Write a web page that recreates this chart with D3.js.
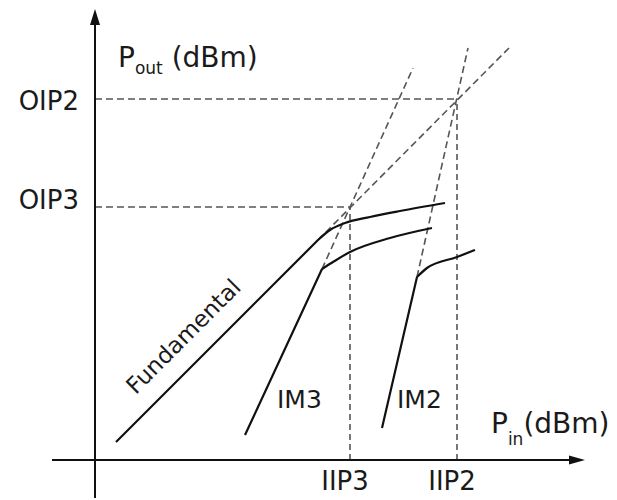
<!DOCTYPE html>
<html>
<head>
<meta charset="utf-8">
<script src="https://cdn.jsdelivr.net/npm/d3@7"></script>
<style>
  body { margin: 0; background: #fff; }
  text { font-family: "DejaVu Sans", Verdana, sans-serif; fill: #1a1a1a; }
</style>
</head>
<body>
<div id="chart"></div>
<script>
// values in dBm (arbitrary units); first point -> knee is the linear part
const fundamental = [[2.1, 1.8], [22.3, 22.0], [23.5, 23.0], [25.0, 23.7], [27.5, 24.3], [30.5, 24.9], [35.0, 25.7]];
const fundamentalExt = [[22.3, 22.0], [41.4, 41.2]];
const im3 = [[15.0, 2.5], [22.7, 19.1], [23.8, 19.8], [25.5, 20.8], [29.5, 22.2], [33.7, 23.2]];
const im3Ext = [[22.7, 19.1], [31.8, 39.2]];
const im2 = [[28.7, 3.2], [32.2, 18.3], [33.2, 19.2], [36.2, 20.3], [38.0, 21.0]];
const im2Ext = [[32.2, 18.3], [37.3, 41.2]];
const interceptNames = ["3", "2"];
const iip = [25.5, 36.2];
const oip = [25.3, 36.1];

const W = 617, H = 500;

const svg = d3.select("#chart")
  .append("svg")
  .attr("width", W)
  .attr("height", H);

// 1 dB = 10 px on both axes
const x = d3.scaleLinear().domain([0, 49]).range([95, 585]);
const y = d3.scaleLinear().domain([0, 45.1]).range([460, 9]);

const line = d3.line().x(d => x(d[0])).y(d => y(d[1]));
const curve = d3.line().x(d => x(d[0])).y(d => y(d[1])).curve(d3.curveMonotoneX);

// dashed helpers
const dashStyle = g => g.attr("fill", "none").attr("stroke", "#555").attr("stroke-width", 1.6).attr("stroke-dasharray", "7,4");

// projections to the axes
interceptNames.forEach((n, i) => {
  svg.append("path")
    .attr("d", line([[0, oip[i]], [iip[i], oip[i]]]))
    .call(dashStyle);
  svg.append("path")
    .attr("d", line([[iip[i], 0], [iip[i], oip[i]]]))
    .call(dashStyle)
    .attr("stroke-dasharray", "6,4");
});

// extrapolated asymptotes
[fundamentalExt, im3Ext, im2Ext].forEach(d => {
  svg.append("path").attr("d", line(d)).call(dashStyle);
});

// measured curves: straight up to the knee, then compression
[fundamental, im3, im2].forEach(d => {
  svg.append("path")
    .attr("d", line(d.slice(0, 2)) + curve(d.slice(1)))
    .attr("fill", "none")
    .attr("stroke", "#111")
    .attr("stroke-width", 2.2)
    .attr("stroke-linejoin", "round");
});

// axes with arrows
svg.append("line")
  .attr("x1", 52).attr("x2", x(48.2))
  .attr("y1", y(0)).attr("y2", y(0))
  .attr("stroke", "#111").attr("stroke-width", 2);
svg.append("line")
  .attr("x1", x(0)).attr("x2", x(0))
  .attr("y1", 498).attr("y2", y(44))
  .attr("stroke", "#111").attr("stroke-width", 2);
svg.append("path")
  .attr("d", `M${x(49)},${y(0)} L${x(47.4)},${y(0) - 4.5} L${x(47.4)},${y(0) + 4.5} Z`)
  .attr("fill", "#111");
svg.append("path")
  .attr("d", `M${x(0)},${y(45.1)} L${x(0) - 5},${y(43.5)} L${x(0) + 5},${y(43.5)} Z`)
  .attr("fill", "#111");

// intercept labels
const oipDy = [2, 11];
interceptNames.forEach((n, i) => {
  svg.append("text")
    .attr("x", 79)
    .attr("y", y(oip[i]) + oipDy[i])
    .attr("text-anchor", "end")
    .attr("font-size", 26)
    .text("OIP" + n);
  svg.append("text")
    .attr("x", x(iip[i]) - 5)
    .attr("y", 490)
    .attr("text-anchor", "middle")
    .attr("font-size", 26)
    .text("IIP" + n);
});

// axis titles
const pout = svg.append("text").attr("x", 118).attr("y", 67).attr("font-size", 28);
pout.append("tspan").text("P");
pout.append("tspan").attr("font-size", 17).attr("dy", 7).text("out");
pout.append("tspan").attr("dy", -7).text(" (dBm)");

const pin = svg.append("text").attr("x", 491).attr("y", 433).attr("font-size", 28);
pin.append("tspan").text("P");
pin.append("tspan").attr("font-size", 17).attr("dy", 12).text("in");
pin.append("tspan").attr("dy", -12).text("(dBm)");

// curve labels
svg.append("text")
  .attr("transform", `translate(189,342) rotate(-45)`)
  .attr("text-anchor", "middle")
  .attr("font-size", 23)
  .text("Fundamental");
svg.append("text").attr("x", 277).attr("y", 408).attr("font-size", 25).text("IM3");
svg.append("text").attr("x", 397).attr("y", 408).attr("font-size", 25).text("IM2");
</script>
</body>
</html>
